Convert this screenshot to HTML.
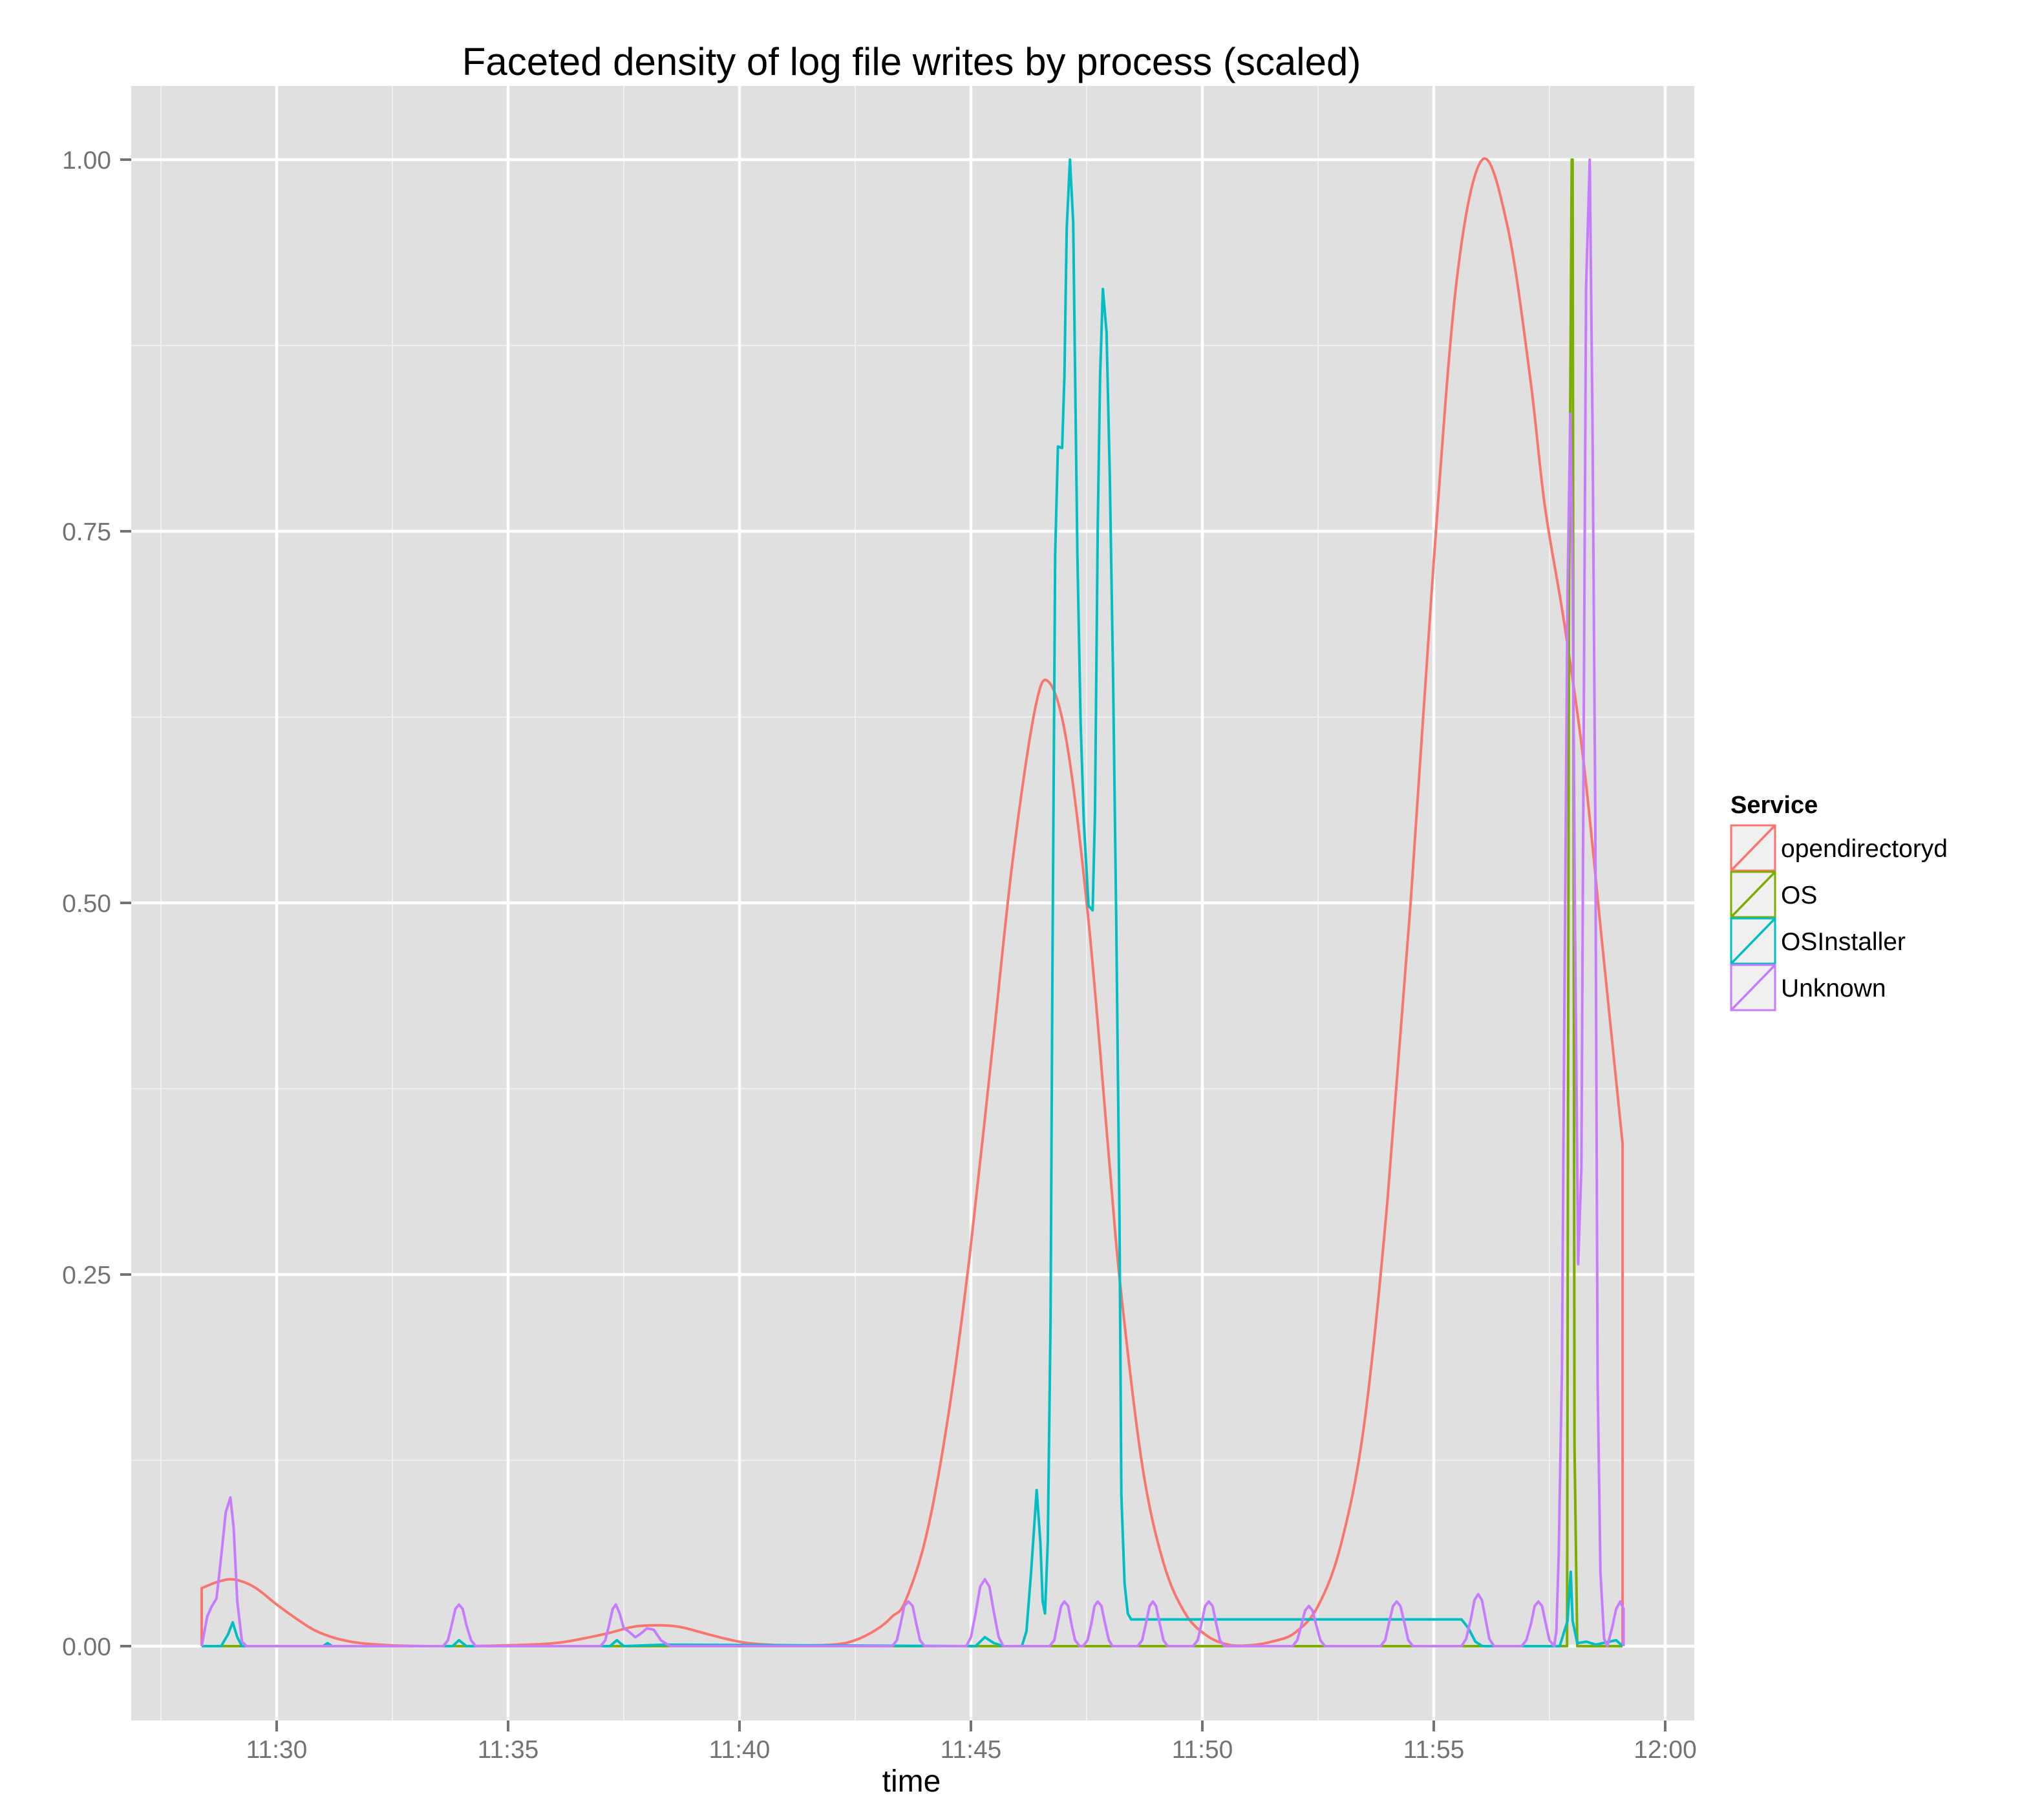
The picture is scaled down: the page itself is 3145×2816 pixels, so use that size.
<!DOCTYPE html>
<html><head><meta charset="utf-8">
<style>
html,body{margin:0;padding:0;background:#fff;}
svg{display:block;font-family:"Liberation Sans",Arial,sans-serif;}
</style></head>
<body>
<svg id="chart" width="3145" height="2816" viewBox="0 0 3145 2816" xmlns="http://www.w3.org/2000/svg">
<rect x="0" y="0" width="3145" height="2816" fill="#ffffff"/>
<rect x="203" y="133" width="2418" height="2529" fill="#e0e0e0"/>
<text x="1410" y="116" font-size="60" text-anchor="middle" fill="#000">Faceted density of log file writes by process (scaled)</text>
<g id="grid"></g>
<g id="series"></g>
<g id="axes"></g>
<text x="1410" y="2772" font-size="48" text-anchor="middle" fill="#000">time</text>
<g id="legend">
<text x="2677" y="1258" font-size="38" font-weight="bold" fill="#000">Service</text>
</g>
</svg>
<script>
// x in minutes after 11:30
const xTickLabels = ["11:30","11:35","11:40","11:45","11:50","11:55","12:00"];
const xTickValues = [0,5,10,15,20,25,30];
const xMinorValues = [-2.5,2.5,7.5,12.5,17.5,22.5,27.5];
const yTickLabels = ["0.00","0.25","0.50","0.75","1.00"];
const yTickValues = [0,0.25,0.5,0.75,1];
const yMinorValues = [0.125,0.375,0.625,0.875];
const seriesNames = ["opendirectoryd","OS","OSInstaller","Unknown"];
const seriesColors = ["#F8766D","#7CAE00","#00BFC4","#C77CFF"];

const redT = [-1.62,-1.62,-1.3,-1.0,-0.7,-0.4,0,0.4,0.8,1.2,1.6,2.0,2.6,3.5,5.0,6.0,6.6,7.2,7.7,8.2,8.7,9.2,9.7,10.2,11.0,12.0,12.5,13.0,13.3,13.58,14.04,14.51,14.97,15.44,15.9,16.37,16.67,17.07,17.54,18.0,18.23,18.7,19.16,19.63,20.1,20.56,21.0,21.5,22.0,22.5,23.0,23.5,24.0,24.5,25.0,25.5,26.05,26.6,27.08,27.4,27.82,28.24,28.66,29.08,29.08];
const redV = [0,0.039,0.043,0.045,0.043,0.038,0.028,0.019,0.011,0.006,0.003,0.0015,0.0004,0,0.0005,0.002,0.005,0.009,0.013,0.014,0.013,0.009,0.005,0.002,0.0005,0.001,0.004,0.012,0.02,0.030,0.075,0.155,0.262,0.395,0.528,0.628,0.649,0.608,0.488,0.322,0.242,0.122,0.056,0.022,0.007,0.001,0.0005,0.003,0.009,0.027,0.069,0.15,0.30,0.50,0.73,0.92,1.0,0.954,0.854,0.767,0.688,0.594,0.466,0.338,0];

const greenT = [-1.62,27.88,27.92,27.98,28.0,28.04,28.1,29.08];
const greenV = [0,0,0.69,1.0,1.0,0.135,0,0];

const cyanT = [-1.62,-1.2,-1.05,-0.95,-0.85,-0.75,1.0,1.1,1.2,3.8,3.94,4.1,7.2,7.35,7.5,8.4,15.1,15.3,15.5,15.7,16.1,16.2,16.3,16.42,16.5,16.55,16.6,16.66,16.72,16.76,16.82,16.88,16.97,17.02,17.07,17.14,17.21,17.30,17.37,17.44,17.54,17.63,17.68,17.74,17.79,17.85,17.93,18.0,18.07,18.14,18.21,18.25,18.32,18.39,18.46,25.6,25.75,25.9,26.05,27.72,27.89,27.96,28.0,28.1,28.3,28.5,28.94,29.08];
const cyanV = [0,0,0.008,0.016,0.006,0,0,0.002,0,0,0.004,0,0,0.004,0,0.001,0,0.006,0.002,0,0,0.01,0.05,0.105,0.07,0.03,0.022,0.07,0.22,0.45,0.734,0.807,0.806,0.854,0.954,1.0,0.958,0.734,0.621,0.554,0.498,0.495,0.561,0.754,0.854,0.913,0.884,0.788,0.655,0.488,0.288,0.102,0.042,0.022,0.018,0.018,0.012,0.003,0,0,0.017,0.05,0.017,0.002,0.003,0.001,0.004,0];

const purpleT = [-1.62,-1.5,-1.4,-1.3,-1.2,-1.1,-1.0,-0.93,-0.85,-0.75,-0.65,3.6,3.7,3.78,3.86,3.94,4.02,4.1,4.2,4.3,7.0,7.1,7.18,7.26,7.33,7.41,7.5,7.6,7.75,7.85,8.0,8.15,8.3,8.5,13.3,13.4,13.48,13.56,13.65,13.74,13.82,13.9,14.0,14.9,15.0,15.1,15.2,15.3,15.4,15.5,15.6,15.7,16.7,16.8,16.87,16.95,17.02,17.1,17.17,17.25,17.35,17.42,17.52,17.6,17.67,17.74,17.82,17.9,17.98,18.06,18.6,18.7,18.78,18.86,18.93,19.0,19.08,19.16,19.25,19.8,19.9,19.98,20.06,20.14,20.22,20.3,20.38,20.48,21.95,22.05,22.13,22.22,22.3,22.38,22.47,22.55,22.65,23.85,23.95,24.03,24.12,24.2,24.28,24.37,24.45,24.55,25.6,25.7,25.8,25.88,25.96,26.04,26.12,26.2,26.3,26.9,27.0,27.1,27.18,27.26,27.34,27.42,27.5,27.6,27.65,27.70,27.77,27.82,27.89,27.95,28.0,28.05,28.12,28.19,28.24,28.29,28.37,28.43,28.49,28.54,28.6,28.68,28.75,28.85,28.94,29.03,29.1,29.1];
const purpleV = [0,0.02,0.027,0.032,0.06,0.09,0.10,0.08,0.03,0.003,0,0,0.004,0.014,0.025,0.028,0.025,0.014,0.004,0,0,0.004,0.014,0.025,0.028,0.022,0.012,0.01,0.006,0.008,0.012,0.011,0.004,0,0,0.004,0.015,0.027,0.03,0.027,0.015,0.004,0,0,0.006,0.022,0.04,0.045,0.04,0.022,0.006,0,0,0.004,0.015,0.027,0.03,0.027,0.015,0.004,0,0,0.004,0.015,0.027,0.03,0.027,0.015,0.004,0,0,0.004,0.015,0.027,0.03,0.027,0.015,0.004,0,0,0.004,0.015,0.027,0.03,0.027,0.015,0.004,0,0,0.004,0.013,0.024,0.027,0.024,0.013,0.004,0,0,0.004,0.015,0.027,0.03,0.027,0.015,0.004,0,0,0.005,0.018,0.031,0.035,0.031,0.018,0.005,0,0,0.004,0.015,0.027,0.03,0.027,0.015,0.004,0,0.01,0.062,0.186,0.421,0.708,0.829,0.72,0.488,0.257,0.322,0.621,0.914,1.0,0.82,0.555,0.178,0.05,0.005,0,0.012,0.025,0.03,0.025,0];

const PX0=203, PX1=2621, PY0=133, PY1=2662;
function xs(t){ return 428 + t*71.6; }
function ys(v){ return 2547 - v*2300; }
const NS="http://www.w3.org/2000/svg";
function mk(tag, attrs, parent){
  const e=document.createElementNS(NS,tag);
  for(const k in attrs) e.setAttribute(k, attrs[k]);
  parent.appendChild(e); return e;
}
const grid=document.getElementById('grid');
yMinorValues.forEach(v=>{
  const l=mk('line',{x1:PX0,x2:PX1,y1:ys(v),y2:ys(v),stroke:'#f0f0f0','stroke-width':2},grid);
  
  
});
xMinorValues.forEach(v=>{
  const l=mk('line',{x1:xs(v),x2:xs(v),y1:PY0,y2:PY1,stroke:'#f0f0f0','stroke-width':2},grid);
  
  
});
yTickValues.forEach(v=>{
  const l=mk('line',{x1:PX0,x2:PX1,y1:ys(v),y2:ys(v),stroke:'#ffffff','stroke-width':4.5},grid);
  
  
});
xTickValues.forEach(v=>{
  const l=mk('line',{x1:xs(v),x2:xs(v),y1:PY0,y2:PY1,stroke:'#ffffff','stroke-width':4.5},grid);
  
  
});
const axes=document.getElementById('axes');
yTickValues.forEach((v,i)=>{
  const t=mk('line',{x1:PX0-17,x2:PX0,y1:ys(v),y2:ys(v),stroke:'#737373','stroke-width':4},axes);
  
  
  const tx=mk('text',{x:172,y:ys(v)+14,'font-size':39,'text-anchor':'end',fill:'#737373'},axes);
  tx.textContent=yTickLabels[i];
  
  
});
xTickValues.forEach((v,i)=>{
  const t=mk('line',{x1:xs(v),x2:xs(v),y1:PY1,y2:PY1+17,stroke:'#737373','stroke-width':4},axes);
  
  
  const tx=mk('text',{x:xs(v),y:2720,'font-size':39,'text-anchor':'middle',fill:'#737373'},axes);
  tx.textContent=xTickLabels[i];
  
  
});
function linePath(T,V){
  let d='';
  for(let i=0;i<T.length;i++) d+=(i?'L':'M')+xs(T[i]).toFixed(1)+','+ys(V[i]).toFixed(1);
  return d;
}
function smoothPath(T,V){
  const P=T.map((t,i)=>[xs(t),ys(V[i])]);
  let d='M'+P[0][0].toFixed(1)+','+P[0][1].toFixed(1);
  for(let i=0;i<P.length-1;i++){
    const p0=P[Math.max(0,i-1)],p1=P[i],p2=P[i+1],p3=P[Math.min(P.length-1,i+2)];
    if(p1[0]===p2[0]){ d+='L'+p2[0].toFixed(1)+','+p2[1].toFixed(1); continue; }
    const c1=[p1[0]+(p2[0]-p0[0])/6,p1[1]+(p2[1]-p0[1])/6];
    const c2=[p2[0]-(p3[0]-p1[0])/6,p2[1]-(p3[1]-p1[1])/6];
    if(p0[0]===p1[0]){c1[0]=p1[0]+(p2[0]-p1[0])/3;c1[1]=p1[1]+(p2[1]-p1[1])/3;}
    if(p3[0]===p2[0]){c2[0]=p2[0]-(p2[0]-p1[0])/3;c2[1]=p2[1]-(p2[1]-p1[1])/3;}
    c1[1]=Math.min(c1[1],2547); c2[1]=Math.min(c2[1],2547);
    d+='C'+c1[0].toFixed(1)+','+c1[1].toFixed(1)+' '+c2[0].toFixed(1)+','+c2[1].toFixed(1)+' '+p2[0].toFixed(1)+','+p2[1].toFixed(1);
  }
  return d;
}
const sg=document.getElementById('series');
const red=mk('path',{d:smoothPath(redT,redV),fill:'none',stroke:seriesColors[0],'stroke-width':4,'stroke-linejoin':'round'},sg);


const green=mk('path',{d:linePath(greenT,greenV),fill:'none',stroke:seriesColors[1],'stroke-width':4,'stroke-linejoin':'round'},sg);


const cyan=mk('path',{d:linePath(cyanT,cyanV),fill:'none',stroke:seriesColors[2],'stroke-width':4,'stroke-linejoin':'round'},sg);


const purple=mk('path',{d:linePath(purpleT,purpleV),fill:'none',stroke:seriesColors[3],'stroke-width':4,'stroke-linejoin':'round'},sg);



const lg=document.getElementById('legend');
seriesNames.forEach((n,i)=>{
  const y0=1276+i*72;
  const g=mk('g',{},lg);
  
  
  mk('rect',{x:2678,y:y0+1,width:68,height:70,fill:'#f0f0f0',stroke:seriesColors[i],'stroke-width':3},g);
  mk('line',{x1:2678,y1:y0+71,x2:2746,y2:y0+1,stroke:seriesColors[i],'stroke-width':3.5},g);
  const t=mk('text',{x:2755,y:y0+50,'font-size':39,fill:'#000'},g);
  t.textContent=n;
  
  
});
</script>
</body></html>
